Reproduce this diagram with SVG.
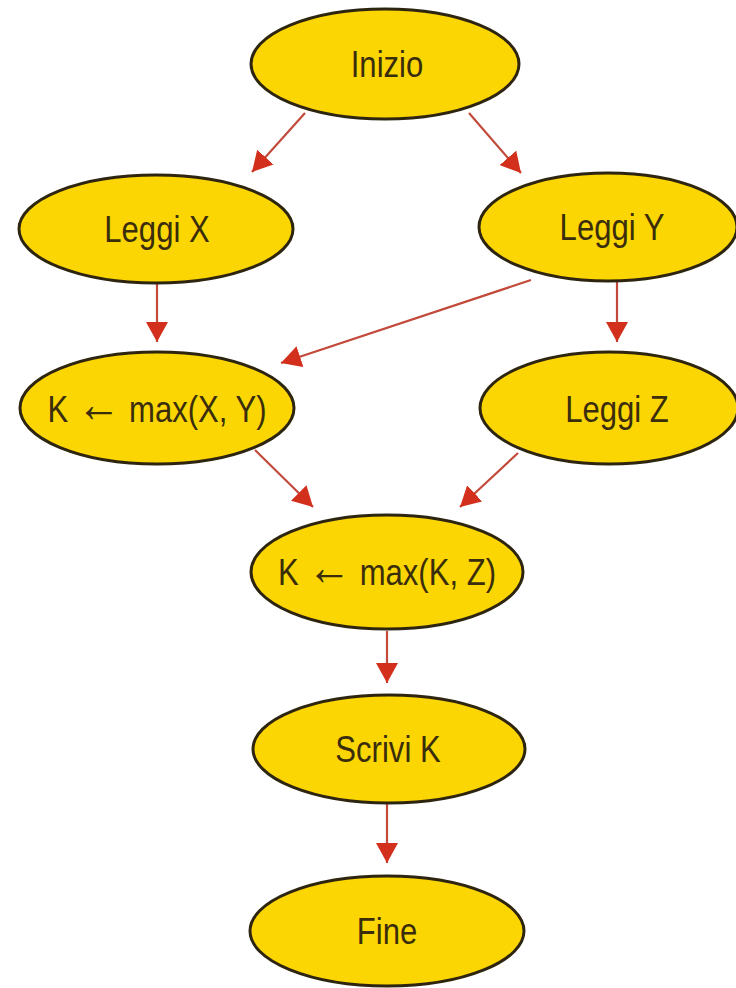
<svg xmlns="http://www.w3.org/2000/svg" width="736" height="988" viewBox="0 0 736 988">
<defs>
<style>
.node ellipse{fill:#fcd602;stroke:#2e2510;stroke-width:3}
.node text{font-family:"Liberation Sans",Arial,sans-serif;font-size:37px;fill:#3a2d0c;text-anchor:middle}
.arr{font-size:52px}
.edge{stroke:#c24a3a;stroke-width:2.2;fill:none;marker-end:url(#ah)}
</style>
<marker id="ah" viewBox="0 0 20 22" refX="20" refY="11" markerWidth="20" markerHeight="22" markerUnits="userSpaceOnUse" orient="auto">
<path d="M0,0 L20,11 L0,22 Z" fill="#d2301c"/>
</marker>
</defs>
<rect width="736" height="988" fill="#ffffff"/>
<g id="connectors">
<line class="edge" x1="305" y1="113" x2="252" y2="172"/>
<line class="edge" x1="469" y1="113" x2="521" y2="173"/>
<line class="edge" x1="157" y1="284" x2="157" y2="342"/>
<line class="edge" x1="531" y1="280" x2="281" y2="363"/>
<line class="edge" x1="617" y1="282" x2="617" y2="342"/>
<line class="edge" x1="255" y1="450" x2="313" y2="507"/>
<line class="edge" x1="518" y1="453" x2="460" y2="507"/>
<line class="edge" x1="387" y1="631" x2="387" y2="683"/>
<line class="edge" x1="387" y1="804" x2="387" y2="863"/>
</g>
<g id="inizio" class="node"><ellipse cx="385" cy="64" rx="134" ry="55"/><text transform="translate(387,77) scale(0.84,1)">Inizio</text></g>
<g id="leggi-x" class="node"><ellipse cx="156" cy="229" rx="137" ry="54"/><text transform="translate(157,242) scale(0.84,1)">Leggi X</text></g>
<g id="leggi-y" class="node"><ellipse cx="608" cy="227" rx="129" ry="54"/><text transform="translate(612,240) scale(0.84,1)">Leggi Y</text></g>
<g id="k-max-xy" class="node"><ellipse cx="157" cy="408" rx="137" ry="56"/><text transform="translate(157,422) scale(0.84,1)">K <tspan class="arr">←</tspan> max(X, Y)</text></g>
<g id="leggi-z" class="node"><ellipse cx="609" cy="408" rx="129" ry="56"/><text transform="translate(617,422) scale(0.84,1)">Leggi Z</text></g>
<g id="k-max-kz" class="node"><ellipse cx="387" cy="572" rx="136" ry="57"/><text transform="translate(387,585) scale(0.84,1)">K <tspan class="arr">←</tspan> max(K, Z)</text></g>
<g id="scrivi-k" class="node"><ellipse cx="389" cy="749" rx="136" ry="54"/><text transform="translate(388,762) scale(0.84,1)">Scrivi K</text></g>
<g id="fine" class="node"><ellipse cx="387" cy="931" rx="137" ry="55"/><text transform="translate(387,944) scale(0.84,1)">Fine</text></g>
</svg>
